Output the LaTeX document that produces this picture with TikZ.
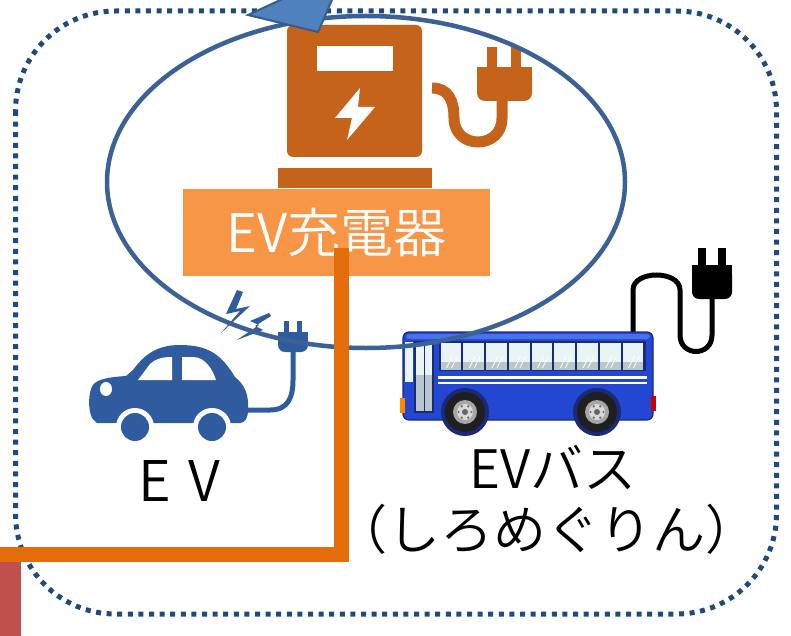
\documentclass[tikz,border=0pt]{standalone}
\usepackage{fontspec}
\usetikzlibrary{calc}
\newfontfamily\jpfont{Noto Sans CJK JP DemiLight}
\definecolor{dotblue}{HTML}{1F4A7E}
\definecolor{ringblue}{HTML}{3B6196}
\definecolor{arrowfill}{HTML}{4F81BD}
\definecolor{arrowline}{HTML}{385D8A}
\definecolor{chgorange}{HTML}{C46319}
\definecolor{lblorange}{HTML}{F79646}
\definecolor{feedorange}{HTML}{E46C0A}
\definecolor{barred}{HTML}{C0504D}
\definecolor{carblue}{HTML}{2F5C9E}
\definecolor{busblue}{HTML}{2447D3}
\definecolor{busroof}{HTML}{4C70EA}
\definecolor{busdark}{HTML}{1A2A78}
\definecolor{glass}{HTML}{E9F4F6}
\definecolor{glasslow}{HTML}{B9C6CA}
\begin{document}
\begin{tikzpicture}[x=1pt,y=-1pt,
  dotframe/.style={draw=dotblue,line width=5pt,dash pattern=on 5pt off 5.6pt,rounded corners=100pt},
  lblbox/.style={fill=lblorange,text=white,minimum width=307pt,minimum height=86pt,inner sep=0pt,
    font=\jpfont\fontsize{53}{60}\selectfont},
  caption/.style={text=black,inner sep=0pt,anchor=base,font=\jpfont\fontsize{#1}{#1}\selectfont},
  feed/.style={draw=feedorange,line width=15pt},
  ring/.style={draw=ringblue,line width=4.5pt},
  chgcord/.style={draw=chgorange,line width=11pt},
  carcord/.style={draw=carblue,line width=5pt},
  buscord/.style={draw=black,line width=5pt}]
\useasboundingbox (0,0) rectangle (791,636);

% dotted frame of the site
\draw[dotframe] (15.5,11) rectangle (776.5,614);

% ---- charging station icon ----
\fill[chgorange,rounded corners=6pt] (287,25) rectangle (422,157);
\fill[white] (317,46) rectangle (393,71);
\fill[white] (360,88) -- (335,118) -- (352,118) -- (347,140) -- (375,107) -- (358,107) -- cycle;
\fill[chgorange] (278,168) rectangle (432,188);
\draw[chgcord] (432,88) .. controls (448,88) and (454,100) .. (454,118)
  .. controls (454,150) and (502,150) .. (502,118) -- (502,98);
\fill[chgorange] (477,67) rectangle (532,85);
\fill[chgorange,rounded corners=8pt] (477,70) rectangle (532,101);
\fill[chgorange] (487,47) rectangle (497,68);
\fill[chgorange] (511,47) rectangle (521,68);

% label of the charger
\node[lblbox] (chglabel) at (336.5,232.5) {EV充電器};

% ---- electric car icon ----
\fill[carblue] (97,423) -- (92,418) .. controls (88,410) and (88,392) .. (93,385)
  .. controls (97,379) and (110,377) .. (126,376) -- (133,370)
  .. controls (146,352) and (160,345) .. (180,345)
  .. controls (210,345) and (222,356) .. (235,377)
  .. controls (245,385) and (249,395) .. (248,410)
  .. controls (248,418) and (245,423) .. (240,423) -- cycle;
\fill[white] (138,380) -- (150,364) .. controls (155,359) and (162,357) .. (172,357) -- (172,380) -- cycle;
\fill[white] (182,357) -- (194,357) .. controls (205,358) and (212,368) .. (216,380) -- (182,380) -- cycle;
\fill[white] (106,389) ellipse [x radius=6,y radius=7];
\foreach \wx in {135,212}{
  \fill[white] (\wx,427) circle [radius=19];
  \fill[carblue] (\wx,427) circle [radius=14];
}
\draw[carcord] (246,410) -- (270,410) .. controls (289,410) and (293,396) .. (293,380) -- (293,350);
\fill[carblue] (278,332) rectangle (308,342);
\fill[carblue,rounded corners=7pt] (278,334) rectangle (308,352);
\fill[carblue] (284,321) rectangle (289,333);
\fill[carblue] (297,321) rectangle (302,333);
% sparks
\fill[carblue] (237,290) -- (226,314) -- (240,311) -- (221,333) -- (250,306) -- (236,309) -- (243,292) -- cycle;
\fill[carblue] (269,313) -- (250,321) -- (259,325) -- (237,340) -- (263,330) -- (255,326) -- (271,316) -- cycle;

% ---- electric bus ----
\draw[buscord] (633,334) -- (633,290) .. controls (633,270) and (680,270) .. (680,290)
  -- (680,335) .. controls (680,357) and (712,357) .. (712,335) -- (712,296);
\fill[black] (692,265) rectangle (732,285);
\fill[black,rounded corners=7pt] (692,268) rectangle (732,299);
\fill[black] (698,248) rectangle (706,266);
\fill[black] (718,248) rectangle (726,266);

\fill[busblue,draw=busdark,line width=1.2pt,rounded corners=6pt] (403,332) rectangle (653,420);
\fill[busroof,rounded corners=3pt] (406,334) rectangle (650,339);
\fill[glass] (404.5,342) rectangle (413,382);
\fill[busdark] (414,341) rectangle (434,413);
\fill[glasslow] (416,343) rectangle (423.5,411);
\fill[glasslow] (425,343) rectangle (432,411);
\fill[glass] (416,343) rectangle (423.5,375);
\fill[glass] (425,343) rectangle (432,375);
\fill[busdark] (439,341) rectangle (646,371);
\foreach \i in {0,...,8}{
  \pgfmathsetmacro{\wl}{440.5+22.75*\i}
  \fill[glass] (\wl,343) rectangle ({\wl+20.8},362);
  \fill[glasslow] (\wl,362) rectangle ({\wl+20.8},369.5);
  \draw[white,line width=0.8pt] ({\wl+6},368) -- ({\wl+12},356);
  \draw[white,line width=0.8pt] ({\wl+11},368) -- ({\wl+17},356);
}
\fill[white] (438,376) rectangle (647,378.5);
\fill[white] (438,381.5) rectangle (647,384);
\fill[orange!90!yellow] (400,398) rectangle (405,413);
\fill[red!80!black] (651,396) rectangle (656,411);
\foreach \wx in {465,597}{
  \fill[busdark] (\wx,412) circle [radius=24];
  \fill[black!88] (\wx,412) circle [radius=20];
  \fill[black!35] (\wx,412) circle [radius=12];
  \fill[black!15] (\wx,412) circle [radius=8];
  \fill[black!60] (\wx,412) circle [radius=3];
  \foreach \a in {0,60,...,300}{
    \fill[black!60] ($(\wx,412)+(\a:6.5)$) circle [radius=1.2];
  }
}

% captions
\node[caption=56] (evcap) at (179.5,501) {E\hskip0.3em V};
\node[caption=53] (buscap) at (553,488) {EVバス};
\node[caption=53] (busname) at (546,549) {（しろめぐりん）};

% coverage ring around the charger
\draw[ring] (366,182) ellipse [x radius=259,y radius=166];

% power feed into the charger
\coordinate (feedtop) at (341,248);
\coordinate (feedend) at (0,554);
\draw[feed] (feedtop) |- (feedend);

% incoming feeder at the lower left
\fill[barred] (0,562) rectangle (21,636);

% incoming arrow at the top
\filldraw[fill=arrowfill,draw=arrowline,line width=2pt,line join=miter]
  (248,15) -- (318,32) -- (345,-30) -- cycle;
\end{tikzpicture}
\end{document}
